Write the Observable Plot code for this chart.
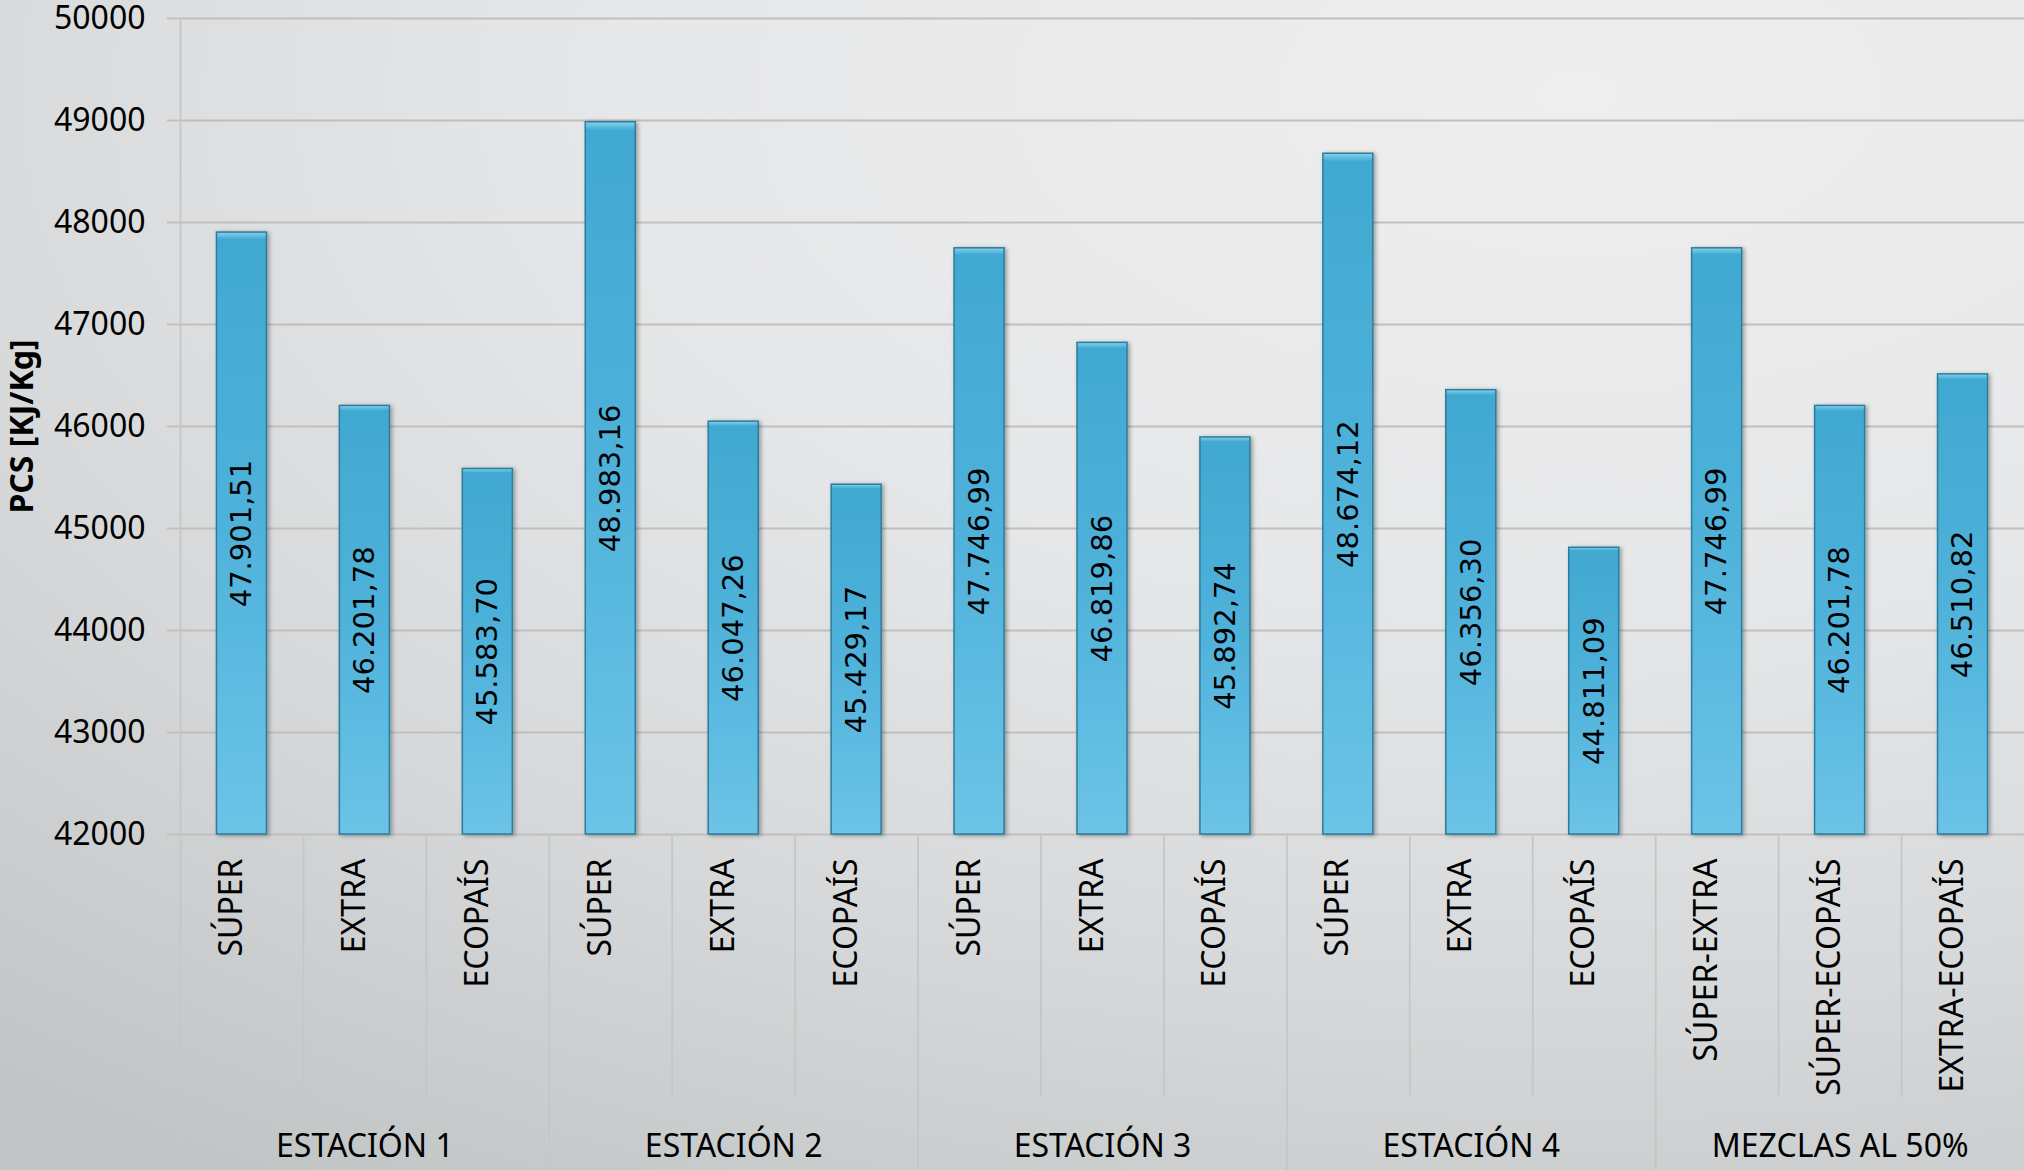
<!DOCTYPE html>
<html>
<head>
<meta charset="utf-8">
<script src="https://cdn.jsdelivr.net/npm/d3@7"></script>
<script src="https://cdn.jsdelivr.net/npm/@observablehq/plot@0.6"></script>
<style>
  html, body { margin: 0; padding: 0; }
  body {
    width: 2024px; height: 1170px; overflow: hidden;
    background: radial-gradient(ellipse 120% 110% at 78% 8%, #eeeeef 0%, #e6e7e8 40%, #d6d8d9 70%, #c2c5c6 100%);
  }
  #chart svg { display: block; }
</style>
</head>
<body>
<div id="chart"></div>
<script>
// ---- data ----
const groups = ["ESTACIÓN 1", "ESTACIÓN 2", "ESTACIÓN 3", "ESTACIÓN 4", "MEZCLAS AL 50%"];
const categories = [
  "SÚPER", "EXTRA", "ECOPAÍS",
  "SÚPER", "EXTRA", "ECOPAÍS",
  "SÚPER", "EXTRA", "ECOPAÍS",
  "SÚPER", "EXTRA", "ECOPAÍS",
  "SÚPER-EXTRA", "SÚPER-ECOPAÍS", "EXTRA-ECOPAÍS"
];
const groupOf = [0,0,0, 1,1,1, 2,2,2, 3,3,3, 4,4,4];
const pcsValues = [
  47901.51, 46201.78, 45583.70,
  48983.16, 46047.26, 45429.17,
  47746.99, 46819.86, 45892.74,
  48674.12, 46356.30, 44811.09,
  47746.99, 46201.78, 46510.82
];
const yTicks = [42000, 43000, 44000, 45000, 46000, 47000, 48000, 49000, 50000];
const yTitle = "PCS [KJ/Kg]";

// ---- table ----
const rows = pcsValues.map((v, i) => ({i, cat: categories[i], group: groupOf[i], v}));
const groupRows = groups.map((g, k) => {
  const idx = rows.filter(r => r.group === k).map(r => r.i);
  return {g, k, i: idx[Math.floor(idx.length / 2)], first: idx[0]};
});
const innerRows = rows.filter(r => r.i > 0 && groupOf[r.i] === groupOf[r.i - 1]);

const esLocale = d3.formatLocale({decimal: ",", thousands: ".", grouping: [3], currency: ["", ""]});
const fmt = esLocale.format(",.2f");

const W = 2024, H = 1170, ML = 180, MR = 0, MT = 18, MB = 336;
const frameH = H - MT - MB;
const step = (W - ML - MR) / rows.length;
const barW = 50;
const inset = (step - barW) / 2;

const chart = Plot.plot({
  width: W, height: H,
  marginLeft: ML, marginRight: MR, marginTop: MT, marginBottom: MB,
  style: {background: "transparent", fontFamily: "Noto Sans", fontSize: "32px", color: "#000", overflow: "visible"},
  x: {type: "band", domain: rows.map(r => r.i), padding: 0, round: false, axis: null},
  y: {domain: [42000, 50000], axis: null},
  marks: [
    Plot.gridY(yTicks, {stroke: "#bfbfbf", strokeOpacity: 1, strokeWidth: 1.8}),
    Plot.axisY(yTicks, {tickSize: 13, tickPadding: 22, stroke: "#bfbfbf", strokeWidth: 1.8, fontSize: 32, fill: "#000", tickFormat: d => String(d), label: null}),
    // y axis line (left edge of the first group, runs to bottom)
    Plot.ruleX(groupRows.filter(g => g.k === 0), {x: "first", dx: -step / 2, insetBottom: -MB, stroke: "#c4c6c7", strokeWidth: 1.8}),
    // group separators below the plot
    Plot.ruleX(groupRows.filter(g => g.k > 0), {x: "first", dx: -step / 2, insetTop: frameH, insetBottom: -MB, stroke: "#c4c6c7", strokeWidth: 1.8}),
    // category separators below the plot (short)
    Plot.ruleX(innerRows, {x: "i", dx: -step / 2, insetTop: frameH, insetBottom: -263, stroke: "#c4c6c7", strokeWidth: 1.8}),
    Plot.barY(rows, {x: "i", y1: 42000, y2: "v", insetLeft: inset, insetRight: inset,
      fill: "url(#barGrad)", stroke: "#2b7d9c", strokeWidth: 1.5}),
    Plot.text(rows, {x: "i", y: d => (42000 + d.v) / 2, text: d => fmt(d.v), rotate: -90,
      fontFamily: "DejaVu Sans", fontSize: 29, fill: "#000"}),
    Plot.text(rows, {x: "i", text: "cat", frameAnchor: "bottom", rotate: -90, textAnchor: "end",
      dy: 24, fontSize: 32, fill: "#000"}),
    Plot.text(groupRows, {x: "i", text: "g", frameAnchor: "bottom", dy: 322, fontSize: 32, fill: "#000"}),
    Plot.text([yTitle], {frameAnchor: "left", textAnchor: "middle", dx: -158, rotate: -90, fontWeight: "bold", fontSize: 32, fill: "#000"})
  ]
});

const ns = "http://www.w3.org/2000/svg";
const defs = document.createElementNS(ns, "defs");
defs.innerHTML = `
  <linearGradient id="barGrad" x1="0" y1="0" x2="0" y2="1">
    <stop offset="0" stop-color="#86d4f0"/>
    <stop offset="0.012" stop-color="#41a9d1"/>
    <stop offset="0.5" stop-color="#4fb2db"/>
    <stop offset="1" stop-color="#6cc4e7"/>
  </linearGradient>
  <filter id="barShadow" x="-20%" y="-5%" width="150%" height="110%">
    <feDropShadow dx="2" dy="1" stdDeviation="2" flood-color="#000" flood-opacity="0.35"/>
  </filter>`;
chart.insertBefore(defs, chart.firstChild);
const barGroup = chart.querySelector('g[aria-label="bar"]');
if (barGroup) barGroup.setAttribute("filter", "url(#barShadow)");
document.getElementById("chart").appendChild(chart);
</script>
</body>
</html>
